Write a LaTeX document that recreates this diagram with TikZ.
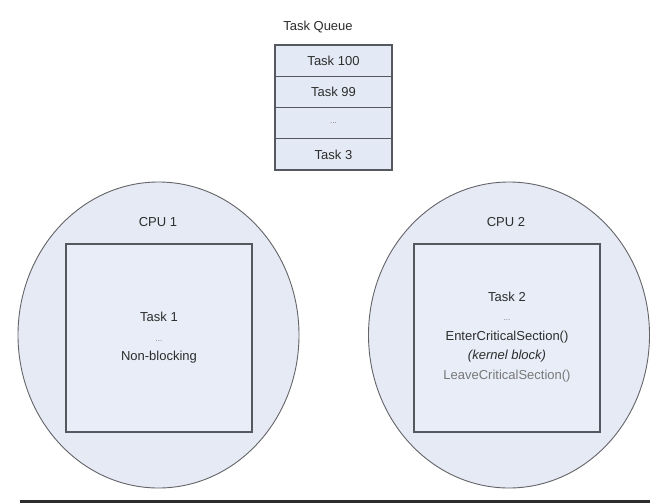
\documentclass[tikz,border=0pt]{standalone}
\usepackage{fontspec}
\setmainfont{Liberation Sans}
\usetikzlibrary{shapes.geometric}
\definecolor{cpufill}{RGB}{229,234,244}
\definecolor{boxfill}{RGB}{232,237,247}
\definecolor{rowfill}{RGB}{228,234,245}
\definecolor{edgegray}{RGB}{100,100,105}
\definecolor{boxedge}{RGB}{85,88,95}
\definecolor{txt}{RGB}{45,45,45}
\definecolor{lighttxt}{RGB}{120,120,120}
\tikzset{
  cpu/.style={ellipse, draw=edgegray, line width=0.9pt, fill=cpufill, inner sep=0pt, minimum width=281pt, minimum height=306pt},
  taskbox/.style={rectangle, draw=boxedge, line width=1.4pt, fill=boxfill, inner sep=0pt, minimum width=186pt, minimum height=188pt},
  row/.style={rectangle, draw=boxedge, line width=1.4pt, fill=rowfill, inner sep=0pt, minimum width=117pt, minimum height=31.25pt, text=txt},
  lbl/.style={text=txt, inner sep=0pt, align=center, font=\fontsize{13pt}{19.5pt}\selectfont},
}
\begin{document}
\begin{tikzpicture}[x=1pt,y=-1pt]
\useasboundingbox (0,0) rectangle (650,503);
\fill[white] (0,0) rectangle (650,503);
% task queue
\node[lbl] (tq) at (318,27) {Task Queue};
\node[row, lbl, minimum width=117pt, minimum height=31.25pt] (r1) at (333.5,60.6) {Task 100};
\node[row, lbl, minimum width=117pt, minimum height=31.25pt] (r2) at (333.5,91.9) {Task 99};
\node[row, lbl, minimum width=117pt, minimum height=31.25pt] (r3) at (333.5,123.1) {\textcolor{lighttxt}{\fontsize{8pt}{8pt}\selectfont ...}};
\node[row, lbl, minimum width=117pt, minimum height=31.25pt] (r4) at (333.5,154.4) {Task 3};
% CPU 1
\node[cpu] (cpu1) at (158.5,335) {};
\node[taskbox] (box1) at (159,338) {};
\node[lbl] (cpu1l) at (158,222) {CPU 1};
\node[lbl] (t1) at (159,338) {Task 1\\{\color{lighttxt}\fontsize{8pt}{8pt}\selectfont ...}\\Non-blocking};
% CPU 2
\node[cpu] (cpu2) at (509,335) {};
\node[taskbox] (box2) at (507,338) {};
\node[lbl] (cpu2l) at (506,222) {CPU 2};
\node[lbl] (t2) at (507,337) {Task 2\\{\color{lighttxt}\fontsize{8pt}{8pt}\selectfont ...}\\EnterCriticalSection()\\\textit{(kernel block)}\\\textcolor{lighttxt}{LeaveCriticalSection()}};
% bottom line
\coordinate (bl) at (20,501);
\coordinate (br) at (650,501);
\draw[line width=3pt, color=txt] (bl) -- (br);
\end{tikzpicture}
\end{document}
